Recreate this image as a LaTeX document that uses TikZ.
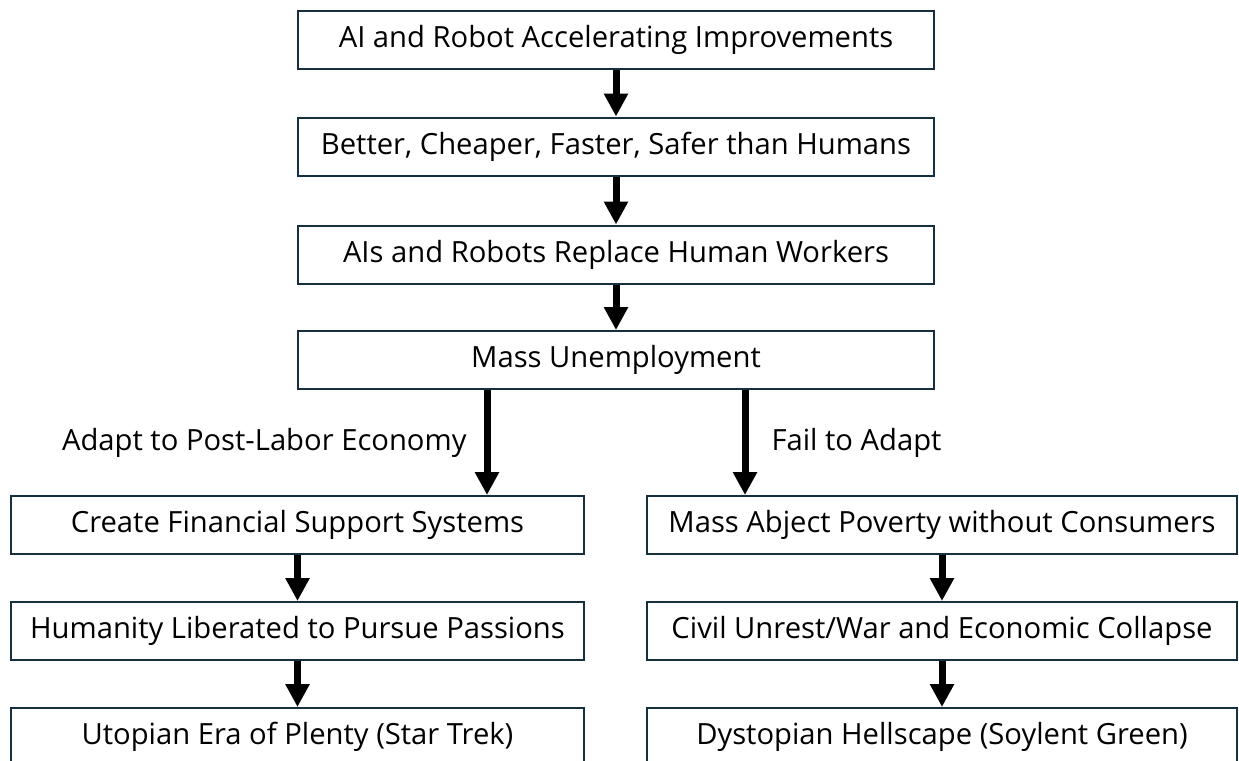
\documentclass[tikz,border=0pt]{standalone}
\usepackage{fontspec}
\setmainfont{Open Sans}
\usetikzlibrary{arrows.meta}
\definecolor{boxline}{RGB}{23,48,64}
\tikzset{stage/.style={draw=boxline,line width=1pt,fill=white,inner sep=0pt,minimum height=29pt,font=\fontsize{14.6pt}{17pt}\selectfont}}
\tikzset{wide/.style={stage,minimum width=318pt}}
\tikzset{leftcol/.style={stage,minimum width=286.5pt}}
\tikzset{rightcol/.style={stage,minimum width=295pt}}
\tikzset{flow/.style={line width=3.5pt,-{Triangle[width=11.5pt,length=11.5pt]}}}
\tikzset{branch/.style={inner sep=0pt,font=\fontsize{14.6pt}{17pt}\selectfont}}

\begin{document}
\begin{tikzpicture}[x=0.5pt, y=-0.5pt]
\path[use as bounding box, clip] (0,0) rectangle (1239,761);

% main chain
\foreach \n/\t/\y in {grow/AI and Robot Accelerating Improvements/40,
  better/{Better, Cheaper, Faster, Safer than Humans}/146.5,
  replace/AIs and Robots Replace Human Workers/254.5,
  unemp/Mass Unemployment/360}
\node [wide] (\n) at (616,\y) {\t};

% adapt
\foreach \n/\t [count=\i from 0] in {support/Create Financial Support Systems,
  liberate/Humanity Liberated to Pursue Passions,
  utopia/Utopian Era of Plenty (Star Trek)}
\node [leftcol] (\n) at (297.5,{525+106*\i}) {\t};

% fail
\foreach \n/\t [count=\i from 0] in {poverty/Mass Abject Poverty without Consumers,
  unrest/{Civil Unrest/War and Economic Collapse},
  dystopia/Dystopian Hellscape (Soylent Green)}
\node [rightcol] (\n) at (942,{525+106*\i}) {\t};

\foreach \a/\b in {grow/better,better/replace,replace/unemp,
  support/liberate,liberate/utopia,poverty/unrest,unrest/dystopia}
\draw [flow] (\a) -- (\b);

\draw [flow] ([xshift=-64.5pt]unemp.south) -- ([xshift=-64.5pt]unemp.south |- support.north)
node [branch, left=8.5pt, midway] {Adapt to Post-Labor Economy};
\draw [flow] ([xshift=64.5pt]unemp.south) -- ([xshift=64.5pt]unemp.south |- poverty.north)
node [branch, right=11.5pt, midway] {Fail to Adapt};
\end{tikzpicture}
\end{document}
